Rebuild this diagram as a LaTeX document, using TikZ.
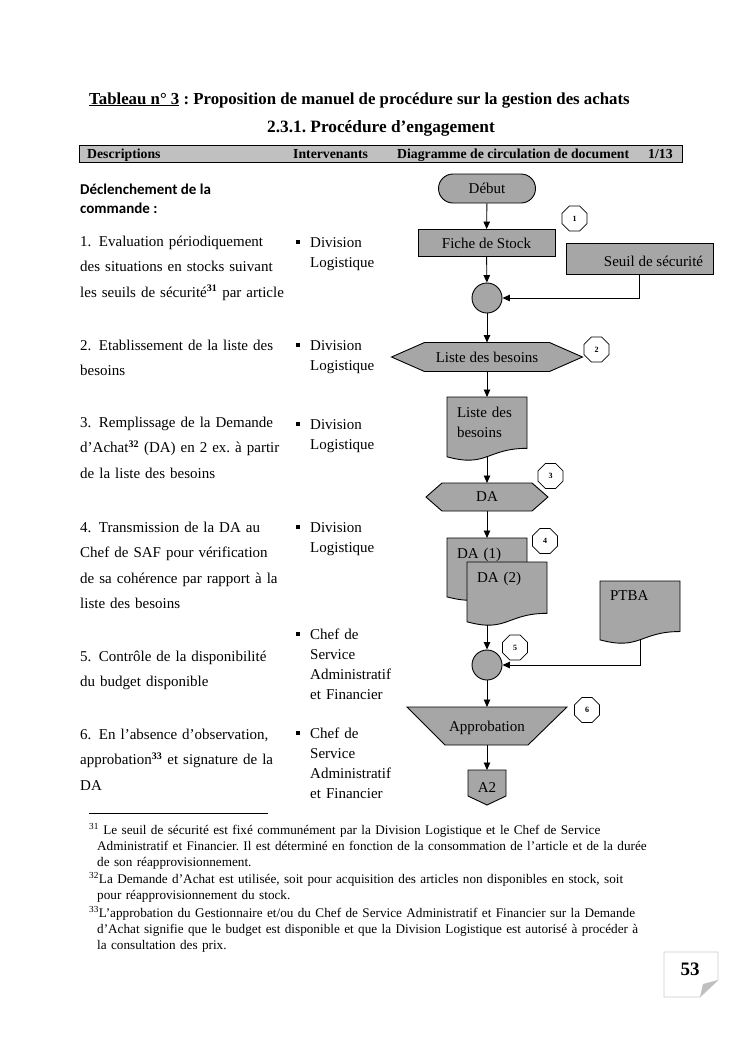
\documentclass[tikz,border=0pt]{standalone}
\usepackage{fontspec}
\setmainfont{Liberation Serif}
\newfontfamily\calibrifont{Carlito}[BoldFont={Carlito Bold}]
\usetikzlibrary{shapes.geometric, shapes.misc, arrows.meta, positioning}

\definecolor{shapegray}{RGB}{166,166,166}
\definecolor{bargray}{RGB}{192,192,192}

\pgfdeclarelayer{paper}
\pgfdeclarelayer{edges}
\pgfdeclarelayer{shapes}
\pgfsetlayers{paper,edges,shapes,main}

\frenchspacing
\newcommand{\sqbullet}{\rule[3.5pt]{4pt}{4pt}\hspace{10pt}}
\newcommand{\fnmark}[1]{\textsuperscript{\fontsize{10}{10}\selectfont\textbf{#1}}}

\begin{document}
\begin{tikzpicture}[
  x=1pt, y=-1pt,
  font=\fontsize{15}{20}\selectfont,
  shp/.style={draw, fill=shapegray, line width=0.9pt},
  slot/.style={rectangle, inner sep=0pt, outer sep=0pt},
  octo/.style={regular polygon, regular polygon sides=8, draw, fill=white,
               line width=0.7pt, minimum size=27pt, inner sep=0pt,
               font=\bfseries\fontsize{8}{8}\selectfont},
  conn/.style={circle, draw, fill=shapegray, line width=0.9pt,
               minimum size=30pt, inner sep=0pt},
  docbox/.style={anchor=north west, inner xsep=10pt, inner ysep=10pt,
                 outer sep=0pt, text width=60pt, align=left},
  arr/.style={-{Triangle[length=7.5pt, width=6.5pt]}, line width=0.9pt},
  desc/.style={anchor=base west, inner sep=0pt, align=left, text width=215pt,
               font=\fontsize{15}{25.5}\selectfont},
  who/.style={anchor=base west, inner sep=0pt, align=left, text width=100pt,
              font=\fontsize{15}{20}\selectfont},
  foot/.style={anchor=base west, inner sep=0pt, align=left, text width=600pt,
               font=\fontsize{13.2}{16.3}\selectfont},
  hdr/.style={anchor=base west, inner sep=0pt,
              font=\bfseries\fontsize{13.75}{14}\selectfont}
]

% Page
\begin{pgfonlayer}{paper}
\fill[white] (0,0) rectangle (744,1053);
\end{pgfonlayer}
\useasboundingbox (0,0) rectangle (744,1053);

% Titles
\node[anchor=base west, inner sep=0pt, font=\bfseries\fontsize{16.8}{18}\selectfont]
  (title) at (89,104) {\underline{Tableau n° 3} : Proposition de manuel de procédure sur la gestion des achats};
\node[anchor=base, inner sep=0pt, font=\bfseries\fontsize{17.3}{18}\selectfont]
  (subtitle) at (381,132) {2.3.1. Procédure d’engagement};

% Header bar
\node[draw, fill=bargray, line width=0.8pt, anchor=north west, inner sep=0pt,
      minimum width=603pt, minimum height=17pt] (bar) at (79,145) {};
\node[hdr] (hdesc) at (87,158)  {Descriptions};
\node[hdr] (hwho)  at (293,158) {Intervenants};
\node[hdr] (hdiag) at (397,158) {Diagramme de circulation de document};
\node[hdr] (hnum)  at (648,158) {1/13};

% Descriptions
\node[anchor=base west, inner sep=0pt, align=left,
      font=\calibrifont\bfseries\fontsize{15}{19}\selectfont]
  (trigger) at (80,213) {Déclenchement de la\\commande :};
\node[desc] (d1) at (80,246) {1.\enspace Evaluation périodiquement\\des situations en stocks suivant\\les seuils de sécurité\fnmark{31} par article};
\node[desc] (d2) at (80,350) {2.\enspace Etablissement de la liste des\\besoins};
\node[desc] (d3) at (80,427) {3.\enspace Remplissage de la Demande\\d’Achat\fnmark{32} (DA) en 2 ex. à partir\\de la liste des besoins};
\node[desc] (d4) at (80,532) {4.\enspace Transmission de la DA au\\Chef de SAF pour vérification\\de sa cohérence par rapport à la\\liste des besoins};
\node[desc] (d5) at (80,661) {5.\enspace Contrôle de la disponibilité\\du budget disponible};
\node[desc] (d6) at (80,739) {6.\enspace En l’absence d’observation,\\approbation\fnmark{33} et signature de la\\DA};

% Intervenants
\node[who] (w1) at (296,247) {\sqbullet Division\\\hspace*{14pt}Logistique};
\node[who] (w2) at (296,350) {\sqbullet Division\\\hspace*{14pt}Logistique};
\node[who] (w3) at (296,429) {\sqbullet Division\\\hspace*{14pt}Logistique};
\node[who] (w4) at (296,532) {\sqbullet Division\\\hspace*{14pt}Logistique};
\node[who] (w5) at (296,639) {\sqbullet Chef de\\\hspace*{14pt}Service\\\hspace*{14pt}Administratif\\\hspace*{14pt}et Financier};
\node[who] (w6) at (296,738) {\sqbullet Chef de\\\hspace*{14pt}Service\\\hspace*{14pt}Administratif\\\hspace*{14pt}et Financier};

% Flow nodes
\node[rounded rectangle, shp, minimum width=97pt, minimum height=29pt, inner sep=0pt]
  (debut) at (487,188.5) {Début};
\node[rectangle, shp, minimum width=137pt, minimum height=27pt, inner sep=0pt]
  (fiche) at (486.5,243) {Fiche de Stock};
\node[rectangle, shp, minimum width=147pt, minimum height=31pt, inner sep=0pt]
  (seuil) at (639.5,258.5) {\hspace*{28pt}\raisebox{-8pt}[0pt][0pt]{Seuil de sécurité}};
\node[conn] (circa) at (487,298) {};

\node[slot, minimum width=191pt, minimum height=29pt] (lhex) at (487,357) {Liste des besoins};
\node[docbox] (ldoc) at (447,397) {Liste des\\besoins};
\node[slot, minimum width=122pt, minimum height=28pt] (dahex) at (487,497) {DA};

\node[docbox] (daone) at (447,538) {DA (1)};
\node[docbox] (datwo) at (467,562) {DA (2)};
\node[docbox] (ptba)  at (600,581) {PTBA};
\node[conn] (circb) at (487,665) {};

\node[slot, minimum width=160pt, minimum height=38pt] (appr) at (487,726) {\raisebox{-5pt}[0pt][0pt]{Approbation}};
\node[slot, minimum width=38pt, minimum height=35pt] (atwo) at (487,787.5) {A2};

% Step markers
\node[octo] (o1) at (574.5,218.5) {1};
\node[octo] (o2) at (596.5,349.5) {2};
\node[octo] (o3) at (550.5,476)   {3};
\node[octo] (o4) at (545,541)     {4};
\node[octo] (o5) at (515,647.5)   {5};
\node[octo] (o6) at (587,710)     {6};

% Shape outlines
\begin{pgfonlayer}{shapes}
\draw ([xshift=16pt]fiche.north west) -- ([xshift=16pt]fiche.south west);
\draw ([xshift=-16pt]fiche.north east) -- ([xshift=-16pt]fiche.south east);
\draw ([yshift=-6pt]seuil.north west) -- ([yshift=-6pt]seuil.north east);
\draw ([xshift=28pt]seuil.north west) -- ([xshift=28pt]seuil.south west);

\draw[shp] (lhex.west) -- ([xshift=33pt]lhex.north west) -- ([xshift=-33pt]lhex.north east)
  -- (lhex.east) -- ([xshift=-33pt]lhex.south east) -- ([xshift=33pt]lhex.south west) -- cycle;
\draw[shp] (dahex.west) -- ([xshift=16pt]dahex.north west) -- ([xshift=-16pt]dahex.north east)
  -- (dahex.east) -- ([xshift=-16pt]dahex.south east) -- ([xshift=16pt]dahex.south west) -- cycle;

\foreach \d/\h in {ldoc/64, daone/63, datwo/64, ptba/63}
  \draw[shp] (\d.north west) -- (\d.north east)
    -- ([yshift={-0.802*\h*1pt}]\d.north east)
    .. controls ([xshift=-40pt, yshift={-0.802*\h*1pt}]\d.north east)
       and ([xshift=40pt, yshift={-1.107*\h*1pt}]\d.north west)
    .. ([yshift={-0.934*\h*1pt}]\d.north west) -- cycle;

\draw[shp] (appr.north west) -- (appr.north east) -- ([xshift=-39pt]appr.south east)
  -- ([xshift=38pt]appr.south west) -- cycle;
\draw[shp] (atwo.north west) -- (atwo.north east) -- ([yshift=9pt]atwo.south east)
  -- (atwo.south) -- ([yshift=9pt]atwo.south west) -- cycle;
\end{pgfonlayer}

% Connectors
\begin{pgfonlayer}{edges}
\draw[arr] (debut) -- (fiche);
\draw[arr] (fiche) -- (circa);
\draw[arr] (seuil) |- (circa);
\draw[arr] (circa) -- (lhex);
\draw[arr] (lhex.south) -- (ldoc.north);
\draw[arr] (ldoc.center) -- (dahex);
\draw[arr] (dahex) -- (daone.north);
\draw[arr] (datwo.center -| circb) -- (circb);
\draw[arr] (ptba.center) |- (circb);
\draw[arr] (circb) -- (appr);
\draw[arr] (appr) -- (atwo);
\end{pgfonlayer}

% Footnotes
\draw[line width=0.7pt] (89,813) -- (268,813);
\node[foot] (f31) at (89,834) {\textsuperscript{31} Le seuil de sécurité est fixé communément par la Division Logistique et le Chef de Service\\\hspace*{8pt}Administratif et Financier. Il est déterminé en fonction de la consommation de l’article et de la durée\\\hspace*{8pt}de son réapprovisionnement.};
\node[foot] (f32) at (89,883) {\textsuperscript{32}La Demande d’Achat est utilisée, soit pour acquisition des articles non disponibles en stock, soit\\\hspace*{8pt}pour réapprovisionnement du stock.};
\node[foot] (f33) at (89,917) {\textsuperscript{33}L’approbation du Gestionnaire et/ou du Chef de Service Administratif et Financier sur la Demande\\\hspace*{8pt}d’Achat signifie que le budget est disponible et que la Division Logistique est autorisé à procéder à\\\hspace*{8pt}la consultation des prix.};

% Page number
\draw[draw=black!20, line width=0.8pt] (664,952) -- (718,952) -- (718,980) -- (700,997) -- (664,997) -- cycle;
\fill[black!25] (718,980) -- (700,997) -- (703,984) -- cycle;
\node[inner sep=0pt, font=\bfseries\fontsize{19}{20}\selectfont] (pnum) at (690,969) {53};

\end{tikzpicture}
\end{document}
